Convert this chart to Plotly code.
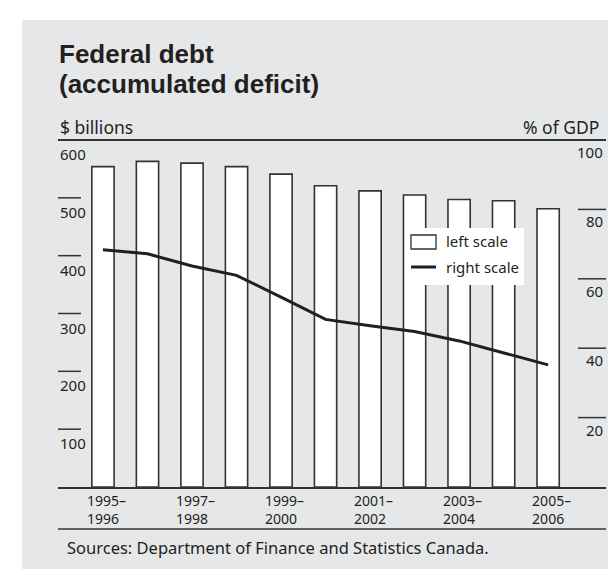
import plotly.graph_objects as go

# ---------------- data ----------------
years = ["1995–1996", "1996–1997", "1997–1998", "1998–1999", "1999–2000",
         "2000–2001", "2001–2002", "2002–2003", "2003–2004", "2004–2005",
         "2005–2006"]
debt_billions = [554, 563, 560, 554, 541, 521, 512, 505, 497, 495, 481]
debt_pct_gdp = [68.4, 67.2, 63.7, 61.0, 54.7, 48.3, 46.5, 44.8, 42.1, 38.6, 35.2]

x_tick_years = ["1995–1996", "1997–1998", "1999–2000", "2001–2002", "2003–2004", "2005–2006"]
x_tick_text = ["\u20021995–<br>1996", "\u20021997–<br>1998", "\u20021999–<br>2000",
               "\u20022001–<br>2002", "\u20022003–<br>2004", "\u20022005–<br>2006"]
left_ticks = [100, 200, 300, 400, 500, 600]
right_ticks = [20, 40, 60, 80, 100]

title_line1 = "Federal debt"
title_line2 = "(accumulated deficit)"
left_unit = "$ billions"
right_unit = "% of GDP"
source_text = "Sources: Department of Finance and Statistics Canada."
legend_labels = ["left scale", "right scale"]

# ---------------- layout geometry ----------------
W, H = 616, 569
ML, MR, MT, MB = 50, 18, 132, 90
PW, PH = W - ML - MR, H - MT - MB


def px_x(x):
    return (x - ML) / PW


def px_y(y):
    return (H - MB - y) / PH


TXT = "#231f20"
EDGE = "#333333"
BG = "#e6e7e8"
FONT = "Noto Sans, Open Sans, Arial, sans-serif"
BOLD = "Liberation Sans, Arial, sans-serif"

fig = go.Figure()
fig.add_trace(go.Bar(
    x=years, y=debt_billions, name=legend_labels[0],
    marker=dict(color="white", line=dict(color=EDGE, width=1.6)),
    yaxis="y", showlegend=False,
))
fig.add_trace(go.Scatter(
    x=years, y=debt_pct_gdp, name=legend_labels[1], mode="lines",
    line=dict(color=TXT, width=3), yaxis="y2", showlegend=False,
))

shapes = []
annotations = []

# gray panel
shapes.append(dict(type="rect", xref="paper", yref="paper",
                   x0=px_x(14), x1=px_x(617), y0=px_y(569), y1=px_y(12),
                   fillcolor=BG, line=dict(width=0), layer="below"))
# header line and bottom line
shapes.append(dict(type="line", xref="paper", yref="paper",
                   x0=0, x1=1, y0=1, y1=1, line=dict(color=EDGE, width=2)))
shapes.append(dict(type="line", xref="paper", yref="paper",
                   x0=0, x1=1, y0=px_y(521), y1=px_y(521),
                   line=dict(color=EDGE, width=1.5)))

# left axis tick dashes & labels
for v in left_ticks:
    if v < max(left_ticks):
        shapes.append(dict(type="line", xref="paper", yref="y",
                           x0=0, x1=px_x(73), y0=v, y1=v,
                           line=dict(color=EDGE, width=1.5)))
    annotations.append(dict(text=str(v), xref="paper", yref="y", x=0, y=v,
                            xanchor="left", yanchor="middle", yshift=-14,
                            showarrow=False, font=dict(size=15, color=TXT, family=FONT)))
# right axis tick dashes & labels
for v in right_ticks:
    if v < max(right_ticks):
        shapes.append(dict(type="line", xref="paper", yref="y2",
                           x0=px_x(570), x1=1, y0=v, y1=v,
                           line=dict(color=EDGE, width=1.5)))
    annotations.append(dict(text=str(v), xref="paper", yref="y2", x=px_x(597), y=v,
                            xanchor="right", yanchor="middle", yshift=-12,
                            showarrow=False, font=dict(size=15, color=TXT, family=FONT)))

# titles
annotations.append(dict(text=f"<b>{title_line1}</b>", xref="paper", yref="paper",
                        x=px_x(49), y=px_y(46), xanchor="left", yanchor="middle",
                        showarrow=False, font=dict(size=26, color=TXT, family=BOLD)))
annotations.append(dict(text=f"<b>{title_line2}</b>", xref="paper", yref="paper",
                        x=px_x(49), y=px_y(76), xanchor="left", yanchor="middle",
                        showarrow=False, font=dict(size=26, color=TXT, family=BOLD)))
annotations.append(dict(text=left_unit, xref="paper", yref="paper",
                        x=0, y=px_y(119), xanchor="left", yanchor="middle",
                        showarrow=False, font=dict(size=17.5, color=TXT, family=FONT)))
annotations.append(dict(text=right_unit, xref="paper", yref="paper",
                        x=px_x(593), y=px_y(119), xanchor="right", yanchor="middle",
                        showarrow=False, font=dict(size=17.5, color=TXT, family=FONT)))
annotations.append(dict(text=source_text, xref="paper", yref="paper",
                        x=px_x(57), y=px_y(539), xanchor="left", yanchor="middle",
                        showarrow=False, font=dict(size=16.5, color=TXT, family=FONT)))

# legend (drawn manually)
shapes.append(dict(type="rect", xref="paper", yref="paper",
                   x0=px_x(397), x1=px_x(516), y0=px_y(277), y1=px_y(220),
                   fillcolor="white", line=dict(width=0)))
shapes.append(dict(type="rect", xref="paper", yref="paper",
                   x0=px_x(403), x1=px_x(428), y0=px_y(241), y1=px_y(227),
                   fillcolor="white", line=dict(color=EDGE, width=1.3)))
shapes.append(dict(type="line", xref="paper", yref="paper",
                   x0=px_x(403), x1=px_x(428), y0=px_y(259), y1=px_y(259),
                   line=dict(color=TXT, width=3)))
for lbl, yy in zip(legend_labels, [233, 259]):
    annotations.append(dict(text=lbl, xref="paper", yref="paper",
                            x=px_x(436), y=px_y(yy), xanchor="left", yanchor="middle",
                            showarrow=False, font=dict(size=15, color=TXT, family=FONT)))

fig.update_layout(
    width=W, height=H,
    margin=dict(l=ML, r=MR, t=MT, b=MB, pad=0),
    paper_bgcolor="white", plot_bgcolor="rgba(0,0,0,0)",
    bargap=0.5,
    font=dict(family=FONT, color=TXT),
    xaxis=dict(type="category", range=[-1.01, 11.3], showgrid=False, zeroline=False,
               showline=True, linecolor=EDGE, linewidth=2,
               tickmode="array", tickvals=x_tick_years, ticktext=x_tick_text,
               ticks="", tickfont=dict(size=14, color=TXT, family=FONT)),
    yaxis=dict(range=[0, 600], showgrid=False, zeroline=False, showticklabels=False,
               ticks="", showline=False),
    yaxis2=dict(range=[0, 100], overlaying="y", side="right", showgrid=False,
                zeroline=False, showticklabels=False, ticks="", showline=False),
    shapes=shapes, annotations=annotations,
)

fig.write_html("out.html")
